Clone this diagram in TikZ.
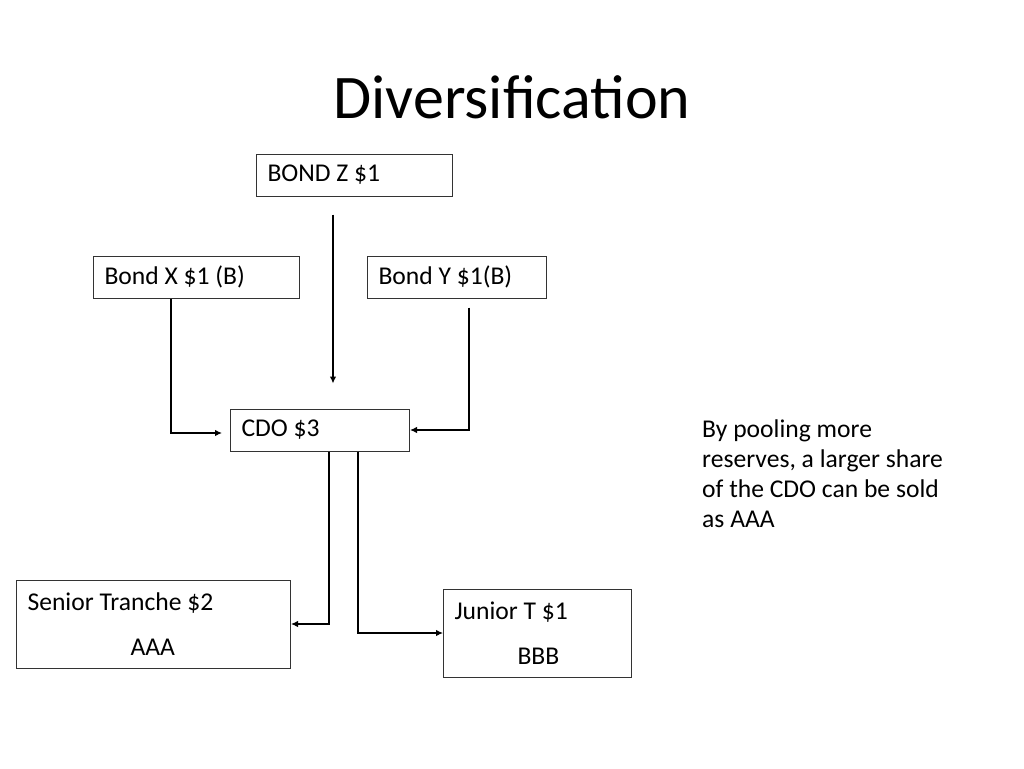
\documentclass[tikz,border=0pt]{standalone}
\usepackage{fontspec}
\setmainfont{Carlito}
\usetikzlibrary{arrows.meta,calc}
\newcommand\normsp{\spaceskip=0pt\xspaceskip=0pt\relax}
\begin{document}
\begin{tikzpicture}[x=1pt,y=-1pt,
  box/.style={draw=black!80, line width=1pt, inner xsep=11pt, inner ysep=0pt, align=left, anchor=west,
    font=\fontsize{25.6}{45}\selectfont},
  arr/.style={line width=1.2pt, -{Latex[length=7pt,width=6.5pt]}},
  txt/.style={font=\fontsize{25.6}{30}\selectfont, align=left, inner sep=0pt}]
\useasboundingbox (0,0) rectangle (1024,768);
\node[font=\fontsize{62}{70}\selectfont] (title) at (512,97) {Diversification};
\node[box, text width=174pt, minimum height=42pt] (z) at (256,175) {\normsp BOND Z \$1};
\node[box, text width=184pt, minimum height=42pt] (x) at (93,277) {\normsp Bond X \$1 (B)};
\node[box, text width=157pt, minimum height=42pt] (y) at (367,277) {\normsp Bond Y \$1(B)};
\node[box, text width=157pt, minimum height=42pt] (cdo) at (230,430) {\normsp CDO \$3};
\node[box, text width=252pt, minimum height=88pt] (sen) at (16,624) {\normsp Senior Tranche \$2\\\hspace*{103pt}AAA};
\node[box, text width=166pt, minimum height=88pt] (jun) at (443,633) {\normsp Junior T \$1\\\hspace*{63pt}BBB};
\node[txt, anchor=north west] (note) at (702,420) {By pooling more\\reserves, a larger share\\of the CDO can be sold\\as AAA};
\draw[arr] ($(z.south west)+(77,18)$) -- ($(cdo.north west)+(103,-25)$);
\draw[arr] ($(x.south west)+(78,0)$) |- ($(cdo.west)+(-8,3)$);
\draw[arr] ($(y.south west)+(102,9)$) |- (cdo.east);
\draw[arr] ($(cdo.south west)+(99,0)$) |- (sen.east);
\draw[arr] ($(cdo.south west)+(128,0)$) |- (jun.west);
\end{tikzpicture}
\end{document}
